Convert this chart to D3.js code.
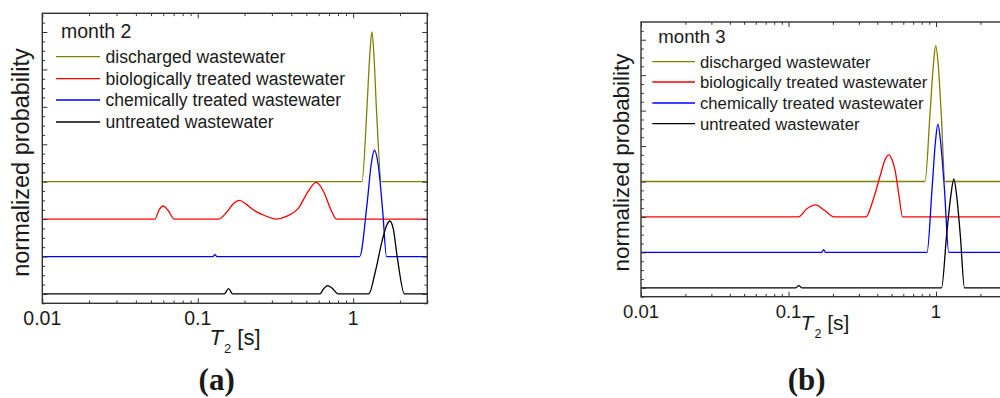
<!DOCTYPE html>
<html><head><meta charset="utf-8">
<script src="https://cdn.jsdelivr.net/npm/d3@7"></script>
<style>
body{margin:0;background:#fff}
svg{display:block}
text{font-family:"Liberation Sans",Arial,sans-serif;fill:#1a1a1a}
</style>
</head><body>
<svg id="chart" width="1000" height="398"></svg>
<script>
// ---------- data ----------
const seriesNames = ["discharged wastewater", "biologically treated wastewater", "chemically treated wastewater", "untreated wastewater"];
const seriesOffsets = [3, 2, 1, 0];
const seriesColors = ["#808000", "#ff0000", "#0000ff", "#000000"];
const xDomain = [0.01, 3];
const yDomain = [-0.25, 7.5];
const xMajorTicks = [0.01, 0.1, 1];
const xTickLabels = ["0.01", "0.1", "1"];
const panelTitles = ["month 2", "month 3"];
const panelLetters = ["a", "b"];

// month 2 : [T2 (s), normalized probability]
const m2Discharged = [[0.01,0],[1.14,0],[1.228,2.0],[1.28,3.4],[1.32,4.0],[1.36,3.4],[1.41,2.0],[1.52,0],[3,0]];
const m2Biological = [[0.01,0],[0.053,0],[0.0565,0.25],[0.060,0.35],[0.064,0.25],[0.0707,0],
  [0.136,0],[0.154,0.19],[0.170,0.42],[0.1855,0.5],[0.205,0.4],[0.229,0.24],[0.279,0.07],[0.318,0.0],
  [0.375,0.08],[0.446,0.30],[0.505,0.69],[0.580,0.98],[0.646,0.73],[0.721,0.24],[0.78,0],[3,0]];
const m2Chemical = [[0.01,0],[0.125,0],[0.129,0.05],[0.133,0],[1.10,0],[1.23,1.42],[1.31,2.5],[1.37,2.84],[1.45,2.45],[1.55,1.2],[1.64,0],[3,0]];
const m2Untreated = [[0.01,0],[0.148,0],[0.158,0.14],[0.168,0],[0.61,0],[0.65,0.15],[0.686,0.22],[0.73,0.16],[0.80,0],
  [1.26,0],[1.39,0.6],[1.54,1.44],[1.65,1.85],[1.72,1.95],[1.81,1.75],[1.92,1.0],[2.14,0],[3,0]];

// month 3
const m3Discharged = [[0.01,0],[0.842,0],[0.91,1.9],[0.96,3.3],[0.995,3.83],[1.035,3.3],[1.085,1.9],[1.15,0],[3,0]];
const m3Biological = [[0.01,0],[0.1165,0],[0.133,0.23],[0.153,0.34],[0.175,0.19],[0.204,0],
  [0.335,0],[0.37,0.41],[0.417,1.14],[0.45,1.6],[0.478,1.75],[0.505,1.6],[0.527,1.33],[0.561,0.6],[0.594,0],[3,0]];
const m3Chemical = [[0.01,0],[0.168,0],[0.173,0.08],[0.178,0],[0.869,0],[0.94,1.8],[0.99,3.1],[1.03,3.62],[1.075,3.1],[1.14,1.8],[1.22,0],[3,0]];
const m3Untreated = [[0.01,0],[0.112,0],[0.1175,0.065],[0.123,0],[1.09,0],[1.18,1.5],[1.26,2.6],[1.32,3.07],[1.38,2.6],[1.46,1.5],[1.56,0],[3,0]];

const panelSeries = [
  [m2Discharged, m2Biological, m2Chemical, m2Untreated],
  [m3Discharged, m3Biological, m3Chemical, m3Untreated]
];

// ---------- layout ----------
const layouts = [
  {x0:42.3, x1:427.3, y0:13.3, y1:303.3, tickFs:19.5, tickY:325, titleFs:22, subFs:13, titleY:345, titleX:235,
   yTitleX:21, yTitleY:162.5, yTitleFs:23.5, monthX:61, monthY:37.5, monthFs:19.5,
   legX0:56, legX1:100, legTx:105.5, legY:[56.7,78.7,100,122], legFs:17.6, letterX:216.7, letterY:390, letterFs:31},
  {x0:641, x1:1006.4, y0:22, y1:296.7, tickFs:18.5, tickY:318, titleFs:21, subFs:12.5, titleY:330, titleX:825,
   yTitleX:621, yTitleY:162.5, yTitleFs:22.4, monthX:658.3, monthY:43.3, monthFs:18.6,
   legX0:652.3, legX1:695, legTx:700, legY:[61.7,82,103,123.7], legFs:16.7, letterX:806.7, letterY:390, letterFs:31}
];

const svg = d3.select("#chart");

layouts.forEach((L, pi) => {
  const g = svg.append("g");
  const x = d3.scaleLog().domain(xDomain).range([L.x0, L.x1]);
  const y = d3.scaleLinear().domain(yDomain).range([L.y1, L.y0]);

  const clipId = "clip" + pi;
  g.append("clipPath").attr("id", clipId).append("rect")
    .attr("x", L.x0).attr("y", L.y0).attr("width", L.x1 - L.x0).attr("height", L.y1 - L.y0);

  // curves
  const line = d3.line().x(d => x(d[0])).y(d => y(d[1])).curve(d3.curveMonotoneX);
  panelSeries[pi].forEach((data, si) => {
    const off = seriesOffsets[si];
    g.append("path")
      .attr("clip-path", `url(#${clipId})`)
      .attr("d", line(data.map(d => [d[0], d[1] + off])))
      .attr("fill", "none").attr("stroke", seriesColors[si]).attr("stroke-width", 1.3)
      .attr("stroke-linejoin", "round");
  });

  // ticks
  const xMinor = x.ticks().filter(t => !xMajorTicks.some(m => Math.abs(m - t) < 1e-9));
  const yMajor = d3.range(0, 8, 1);
  const yMinor = d3.range(-0.25, 7.5, 0.25).filter(v => Math.abs(v - Math.round(v)) > 1e-9);
  const addAxis = (axisFn, scale, vals, size, tx, ty) => {
    const a = g.append("g").attr("transform", `translate(${tx},${ty})`)
      .call(axisFn(scale).tickValues(vals).tickSize(-size).tickFormat(""));
    a.select(".domain").remove();
    a.selectAll("line").attr("stroke", "#333").attr("stroke-width", 1);
  };
  addAxis(d3.axisBottom, x, xMajorTicks, 5, 0, L.y1);
  addAxis(d3.axisBottom, x, xMinor, 2.8, 0, L.y1);
  addAxis(d3.axisTop, x, xMajorTicks, 5, 0, L.y0);
  addAxis(d3.axisTop, x, xMinor, 2.8, 0, L.y0);
  addAxis(d3.axisLeft, y, yMajor, 5, L.x0, 0);
  addAxis(d3.axisLeft, y, yMinor, 2.8, L.x0, 0);
  addAxis(d3.axisRight, y, yMajor, 5, L.x1, 0);
  addAxis(d3.axisRight, y, yMinor, 2.8, L.x1, 0);

  // frame
  g.append("rect").attr("x", L.x0).attr("y", L.y0).attr("width", L.x1 - L.x0).attr("height", L.y1 - L.y0)
    .attr("fill", "none").attr("stroke", "#333").attr("stroke-width", 1.4);

  // tick labels
  g.selectAll(".xl").data(xMajorTicks).enter().append("text")
    .attr("x", d => x(d)).attr("y", L.tickY).attr("text-anchor", "middle")
    .attr("font-size", L.tickFs).text((d, i) => xTickLabels[i]);

  // x title
  const xt = g.append("text").attr("x", L.titleX).attr("y", L.titleY).attr("text-anchor", "middle").attr("font-size", L.titleFs);
  xt.append("tspan").attr("font-style", "italic").text("T");
  xt.append("tspan").attr("font-size", L.subFs).attr("dy", 8).attr("dx", 1).text("2");
  xt.append("tspan").attr("dy", -8).text(" [s]");

  // y title
  g.append("text").attr("transform", `translate(${L.yTitleX},${L.yTitleY}) rotate(-90)`)
    .attr("text-anchor", "middle").attr("dy", "0.35em").attr("font-size", L.yTitleFs).text("normalized probability");

  // legend
  g.append("text").attr("x", L.monthX).attr("y", L.monthY).attr("font-size", L.monthFs).text(panelTitles[pi]);
  seriesNames.forEach((name, si) => {
    g.append("line").attr("x1", L.legX0).attr("x2", L.legX1).attr("y1", L.legY[si]).attr("y2", L.legY[si])
      .attr("stroke", seriesColors[si]).attr("stroke-width", 1.3);
    g.append("text").attr("x", L.legTx).attr("y", L.legY[si]).attr("dy", "0.36em")
      .attr("font-size", L.legFs).text(name);
  });

  // panel letter
  g.append("text").attr("x", L.letterX).attr("y", L.letterY).attr("text-anchor", "middle")
    .attr("font-size", L.letterFs).attr("font-weight", "bold")
    .style("font-family", "'Liberation Serif','DejaVu Serif',serif")
    .text("(" + panelLetters[pi] + ")");
});
</script>
</body></html>
